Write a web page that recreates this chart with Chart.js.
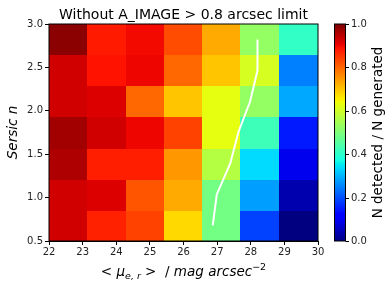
<!DOCTYPE html>
<html>
<head>
<meta charset="utf-8">
<script src="https://cdn.jsdelivr.net/npm/chart.js@4/dist/chart.umd.min.js"></script>
<style>
  html, body { margin: 0; padding: 0; background: #fff; }
  #wrap { width: 392px; height: 291px; position: relative; }
</style>
</head>
<body>
<div id="wrap"><canvas id="heat"></canvas></div>
<script>
// bin edges of the grid
var xEdges = [22, 23.14, 24.29, 25.43, 26.57, 27.71, 28.86, 30];
var yEdges = [0.5, 0.857, 1.214, 1.571, 1.929, 2.286, 2.643, 3.0];

// completeness per cell, one array per row (bottom row first)
var row0 = [0.93, 0.875, 0.84, 0.68, 0.49, 0.19, 0.0];
var row1 = [0.93, 0.92, 0.82, 0.73, 0.49, 0.28, 0.04];
var row2 = [0.96, 0.877, 0.877, 0.75, 0.57, 0.34, 0.095];
var row3 = [0.97, 0.93, 0.905, 0.84, 0.63, 0.425, 0.15];
var row4 = [0.93, 0.92, 0.80, 0.70, 0.63, 0.53, 0.29];
var row5 = [0.93, 0.89, 0.905, 0.80, 0.70, 0.61, 0.25];
var row6 = [0.99, 0.883, 0.90, 0.83, 0.73, 0.53, 0.41];
var rows = [row0, row1, row2, row3, row4, row5, row6];

// white limit line (x at row centres)
var limitX = [26.87, 26.99, 27.39, 27.63, 27.98, 28.20, 28.20];
var limitY = [0.679, 1.036, 1.393, 1.75, 2.107, 2.464, 2.821];

var xTicks = [22, 23, 24, 25, 26, 27, 28, 29, 30];
var yTicks = [0.5, 1.0, 1.5, 2.0, 2.5, 3.0];
var cbTicks = [0.0, 0.2, 0.4, 0.6, 0.8, 1.0];

// matplotlib jet
function seg(v, pts) {
    for (var i = 1; i < pts.length; i++) {
        if (v <= pts[i][0]) {
            var a = pts[i-1], b = pts[i];
            return a[1] + (b[1]-a[1]) * (v-a[0]) / (b[0]-a[0]);
        }
    }
    return pts[pts.length-1][1];
}
function jet(v) {
    v = Math.max(0, Math.min(1, v));
    var r = seg(v, [[0,0],[0.35,0],[0.66,1],[0.89,1],[1,0.5]]);
    var g = seg(v, [[0,0],[0.125,0],[0.375,1],[0.64,1],[0.91,0],[1,0]]);
    var b = seg(v, [[0,0.5],[0.11,1],[0.34,1],[0.65,0],[1,0]]);
    return 'rgb(' + Math.round(r*255) + ',' + Math.round(g*255) + ',' + Math.round(b*255) + ')';
}

var textCol = '#222';

var heatPlugin = {
    id: 'heat',
    beforeDatasetsDraw: function(chart) {
        var ctx = chart.ctx, xs = chart.scales.x, ys = chart.scales.y;
        ctx.save();
        for (var i = 0; i < rows.length; i++) {
            for (var j = 0; j < rows[i].length; j++) {
                var x0 = xs.getPixelForValue(xEdges[j]), x1 = xs.getPixelForValue(xEdges[j+1]);
                var y0 = ys.getPixelForValue(yEdges[i+1]), y1 = ys.getPixelForValue(yEdges[i]);
                ctx.fillStyle = jet(rows[i][j]);
                ctx.fillRect(Math.floor(x0), Math.floor(y0), Math.ceil(x1) - Math.floor(x0), Math.ceil(y1) - Math.floor(y0));
            }
        }
        ctx.restore();
    },
    afterDraw: function(chart) {
        var ctx = chart.ctx, a = chart.chartArea;
        ctx.save();
        // frame
        ctx.strokeStyle = '#000';
        ctx.lineWidth = 1;
        ctx.strokeRect(a.left, a.top, a.right - a.left, a.bottom - a.top);

        // colorbar
        var cbL = 334, cbR = 345;
        var h = a.bottom - a.top;
        for (var k = 0; k < h; k++) {
            ctx.fillStyle = jet(1 - k / h);
            ctx.fillRect(cbL, a.top + k, cbR - cbL, 1);
        }
        ctx.strokeRect(cbL + 0.5, a.top, cbR - cbL, h);
        ctx.font = '10px "DejaVu Sans"';
        ctx.fillStyle = textCol;
        ctx.textBaseline = 'middle';
        ctx.textAlign = 'left';
        cbTicks.forEach(function(t) {
            var y = Math.round(a.bottom - t * h) + 0.5;
            ctx.beginPath();
            ctx.moveTo(cbR + 0.5, y);
            ctx.lineTo(cbR + 4, y);
            ctx.stroke();
            ctx.fillText(t.toFixed(1), cbR + 6, y);
        });

        // title
        ctx.font = '14px "DejaVu Sans"';
        ctx.fillStyle = '#000';
        ctx.textAlign = 'center';
        ctx.textBaseline = 'alphabetic';
        ctx.fillText('Without A_IMAGE > 0.8 arcsec limit', (a.left + a.right) / 2, 19);

        // y title
        ctx.save();
        ctx.translate(17, (a.top + a.bottom) / 2);
        ctx.rotate(-Math.PI / 2);
        ctx.font = 'oblique 13.5px "DejaVu Sans"';
        ctx.fillText('Sersic n', 0, 0);
        ctx.restore();

        // colorbar title
        ctx.save();
        ctx.translate(382, (a.top + a.bottom) / 2);
        ctx.rotate(-Math.PI / 2);
        ctx.font = '13.5px "DejaVu Sans"';
        ctx.fillText('N detected / N generated', 0, 0);
        ctx.restore();

        // x title with sub/superscript
        var base = 276;
        var parts = [
            ['< ', '13.5px "DejaVu Sans"', 0],
            ['\u03bc', 'oblique 13.5px "DejaVu Sans"', 0],
            ['e, r', 'oblique 9.5px "DejaVu Sans"', 3],
            [' >  / ', '13.5px "DejaVu Sans"', 0],
            ['mag arcsec', 'oblique 13.5px "DejaVu Sans"', 0],
            ['\u22122', '9.5px "DejaVu Sans"', -6]
        ];
        var total = 0;
        parts.forEach(function(p) { ctx.font = p[1]; total += ctx.measureText(p[0]).width; });
        var x = (a.left + a.right) / 2 - total / 2;
        ctx.textAlign = 'left';
        parts.forEach(function(p) {
            ctx.font = p[1];
            ctx.fillText(p[0], x, base + p[2]);
            x += ctx.measureText(p[0]).width;
        });
        ctx.restore();
    }
};

var pts = limitX.map(function(v, i) { return { x: v, y: limitY[i] }; });

new Chart(document.getElementById('heat'), {
    type: 'scatter',
    data: {
        datasets: [{
            data: pts,
            showLine: true,
            borderColor: '#fff',
            borderWidth: 2,
            pointRadius: 0,
            tension: 0
        }]
    },
    options: {
        responsive: true,
        maintainAspectRatio: false,
        devicePixelRatio: 1,
        animation: false,
        layout: { padding: { left: 0, right: 74, top: 24, bottom: 29 } },
        plugins: { legend: { display: false }, tooltip: { enabled: false } },
        scales: {
            x: {
                type: 'linear', min: 22, max: 30,
                afterFit: function(s) { s.height = 21; },
                afterBuildTicks: function(s) { s.ticks = xTicks.map(function(v) { return { value: v }; }); },
                grid: { display: true, drawOnChartArea: false, drawTicks: true, tickLength: 4, color: '#000' },
                border: { display: true, color: '#000' },
                ticks: { color: textCol, font: { family: 'DejaVu Sans', size: 10 }, padding: 1, maxRotation: 0 }
            },
            y: {
                type: 'linear', min: 0.5, max: 3.0,
                afterFit: function(s) { s.width = 49; },
                afterBuildTicks: function(s) { s.ticks = yTicks.map(function(v) { return { value: v }; }); },
                grid: { display: true, drawOnChartArea: false, drawTicks: true, tickLength: 4, color: '#000' },
                border: { display: true, color: '#000' },
                ticks: { color: textCol, font: { family: 'DejaVu Sans', size: 10 }, padding: 2,
                    callback: function(v) { return v.toFixed(1); } }
            }
        }
    },
    plugins: [heatPlugin]
});
</script>
</body>
</html>
